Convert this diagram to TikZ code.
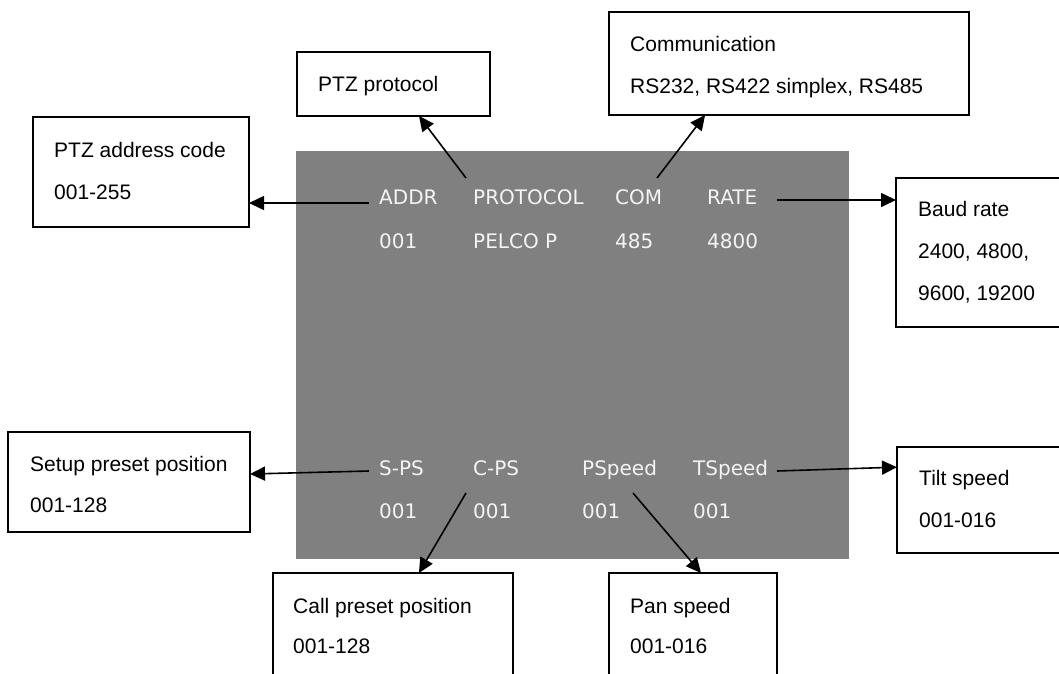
\documentclass[tikz,border=0pt]{standalone}
\usepackage{fontspec}
\setmainfont{Liberation Sans}
\newfontfamily\osd{DejaVu Sans}
\usetikzlibrary{arrows.meta,calc}
\definecolor{osdgray}{HTML}{808080}
\definecolor{osdwhite}{HTML}{F4F4F4}
\begin{document}
\begin{tikzpicture}[x=1pt,y=-1pt,
  box/.style={draw=black, line width=2pt, fill=white, inner sep=0pt, outer sep=0pt, anchor=north west},
  boxtext/.style={anchor=base west, inner sep=0pt, font=\fontsize{21}{21}\selectfont, text=black},
  osdtext/.style={anchor=base west, inner sep=0pt, font=\osd\fontsize{20}{20}\selectfont, text=osdwhite},
  arr/.style={line width=1.6pt, draw=black, -{Triangle[length=15pt,width=14pt]}}]
\useasboundingbox (0,0) rectangle (1059,673);
\clip (0,0) rectangle (1059,673);
\fill[white] (0,0) rectangle (1059,673);
% screen
\node[fill=osdgray, inner sep=0pt, outer sep=0pt, anchor=north west, minimum width=553pt, minimum height=408pt] (screen) at (296,151) {};
% OSD labels
\node[osdtext] (addr) at (379,204) {ADDR};
\node[osdtext] (proto) at (473,204) {PROTOCOL};
\node[osdtext] (com) at (615,204) {COM};
\node[osdtext] (rate) at (707,204) {RATE};
\node[osdtext] (addrv) at (379,248) {001};
\node[osdtext] (protov) at (473,248) {PELCO P};
\node[osdtext] (comv) at (615,248) {485};
\node[osdtext] (ratev) at (707,248) {4800};
\node[osdtext] (sps) at (379,475) {S-PS};
\node[osdtext] (cps) at (473,475) {C-PS};
\node[osdtext] (psp) at (582,475) {PSpeed};
\node[osdtext] (tsp) at (693,475) {TSpeed};
\node[osdtext] (spsv) at (379,518) {001};
\node[osdtext] (cpsv) at (473,518) {001};
\node[osdtext] (pspv) at (582,518) {001};
\node[osdtext] (tspv) at (693,518) {001};
% boxes
\node[box, minimum width=193pt, minimum height=64pt] (protobox) at (297,52) {};
\node[box, minimum width=216pt, minimum height=110pt] (addrbox) at (33,117) {};
\node[box, minimum width=360pt, minimum height=103pt] (combox) at (609,12) {};
\node[box, minimum width=200pt, minimum height=149pt] (baudbox) at (896,178) {};
\node[box, minimum width=200pt, minimum height=106pt] (tiltbox) at (897,447) {};
\node[box, minimum width=242pt, minimum height=100pt] (setupbox) at (8,432) {};
\node[box, minimum width=240pt, minimum height=140pt] (callbox) at (273,573) {};
\node[box, minimum width=168pt, minimum height=140pt] (panbox) at (609,573) {};
% box texts
\node[boxtext] (t1) at (318,91) {PTZ protocol};
\node[boxtext] (t2) at (54,157.5) {PTZ address code};
\node[boxtext] (t3) at (54,199.5) {001-255};
\node[boxtext] (t4) at (630,51) {Communication};
\node[boxtext] (t5) at (630,93) {RS232, RS422 simplex, RS485};
\node[boxtext] (t6) at (918,216) {Baud rate};
\node[boxtext] (t7) at (918,258) {2400, 4800,};
\node[boxtext] (t8) at (918,300) {9600, 19200};
\node[boxtext] (t9) at (919,485) {Tilt speed};
\node[boxtext] (t10) at (919,527) {001-016};
\node[boxtext] (t11) at (30,471) {Setup preset position};
\node[boxtext] (t12) at (30,512) {001-128};
\node[boxtext] (t13) at (293,613) {Call preset position};
\node[boxtext] (t14) at (293,653) {001-128};
\node[boxtext] (t15) at (630,613) {Pan speed};
\node[boxtext] (t16) at (630,653) {001-016};
% connector start points
\coordinate (addrS) at (369,203);
\coordinate (protoS) at (466,178);
\coordinate (comS) at (657,178);
\coordinate (rateS) at (777,200);
\coordinate (spsS) at (369,471);
\coordinate (cpsS) at (466,493);
\coordinate (pspS) at (633,493);
\coordinate (tspS) at (777,471);
% connector end points on boxes
\coordinate (addrE) at (addrS -| addrbox.east);
\coordinate (protoE) at ($(protobox.south west)!0.632!(protobox.south east)$);
\coordinate (comE) at ($(combox.south west)!0.267!(combox.south east)$);
\coordinate (rateE) at (rateS -| baudbox.west);
\coordinate (spsE) at ($(setupbox.north east)!0.42!(setupbox.south east)$);
\coordinate (tspE) at ($(tiltbox.north west)!0.19!(tiltbox.south west)$);
\coordinate (cpsE) at ($(callbox.north west)!0.608!(callbox.north east)$);
\coordinate (pspE) at ($(panbox.north west)!0.548!(panbox.north east)$);
% connectors
\draw[arr] (addrS) -- (addrE);
\draw[arr] (protoS) -- (protoE);
\draw[arr] (comS) -- (comE);
\draw[arr] (rateS) -- (rateE);
\draw[arr] (spsS) -- (spsE);
\draw[arr] (cpsS) -- (cpsE);
\draw[arr] (pspS) -- (pspE);
\draw[arr] (tspS) -- (tspE);
\end{tikzpicture}
\end{document}
